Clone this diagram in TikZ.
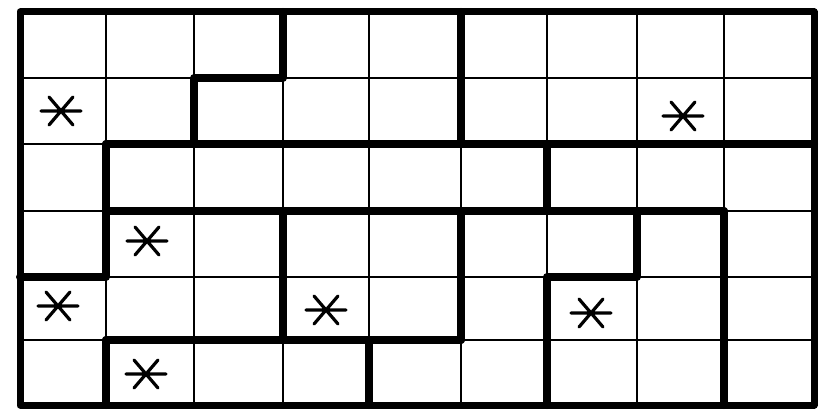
\documentclass[tikz,border=0pt]{standalone}
\begin{document}
\begin{tikzpicture}[x=1pt,y=-1pt,
  gridline/.style={line width=2.2pt,black},
  wall/.style={line width=8pt,black,line cap=round,line join=round},
  frame/.style={line width=7pt,black,line join=round},
  ast/.pic={\draw[line width=3.2pt,line cap=round] (-20,0)--(20,0) (-12,-14)--(12,14) (-12,14)--(12,-14);}]
\useasboundingbox[fill=white] (0,0) rectangle (821,414);
\foreach \i/\xx in {0/20,1/106,2/194,3/283,4/369,5/461,6/547,7/637,8/724,9/814}
  \foreach \j/\yy in {0/12,1/78,2/144,3/211,4/277,5/340,6/405}
    \coordinate (p\i-\j) at (\xx,\yy);
% thin grid
\foreach \i in {1,...,8} \draw[gridline] (p\i-0) -- (p\i-6);
\foreach \j in {1,...,5} \draw[gridline] (p0-\j) -- (p9-\j);
% region walls
\draw[wall] (p3-0) -- (p3-1) -- (p2-1) -- (p2-2);
\draw[wall] (p5-0) -- (p5-2);
\draw[wall] (p1-2) -- (p9-2);
\draw[wall] (p1-2) -- (p1-4) -- (p0-4);
\draw[wall] (p6-2) -- (p6-3);
\draw[wall] (p1-3) -- (p8-3);
\draw[wall] (p3-3) -- (p3-5);
\draw[wall] (p1-5) -- (p5-5);
\draw[wall] (p1-5) -- (p1-6);
\draw[wall] (p4-5) -- (p4-6);
\draw[wall] (p5-3) -- (p5-5);
\draw[wall] (p7-3) -- (p7-4) -- (p6-4) -- (p6-6);
\draw[wall] (p8-3) -- (p8-6);
% outer frame
\draw[frame] (p0-0) rectangle (p9-6);
% asterisks
\pic at (61,111) {ast};
\pic at (683,116) {ast};
\pic at (147,241) {ast};
\pic at (58,306) {ast};
\pic at (326,310) {ast};
\pic at (591,313) {ast};
\pic at (146,374) {ast};
\end{tikzpicture}
\end{document}
